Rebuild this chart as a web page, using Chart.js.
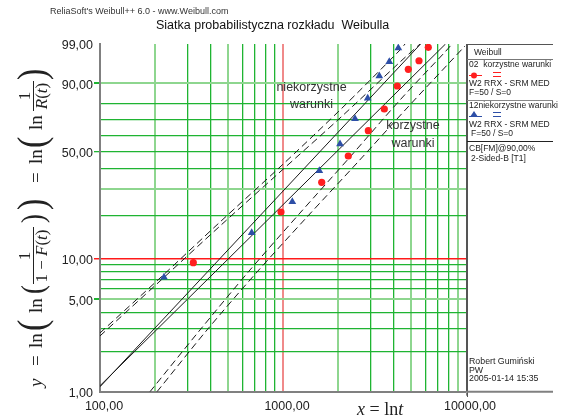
<!DOCTYPE html>
<html><head><meta charset="utf-8">
<script src="https://cdn.jsdelivr.net/npm/chart.js@4.4.1/dist/chart.umd.min.js"></script>
<style>html,body{margin:0;padding:0;background:#fff;}#wrap{width:565px;height:419px;position:relative}</style>
</head><body><div id="wrap"><canvas id="c" width="565" height="419"></canvas></div>
<script>
// ---- axis ticks ----
const xTickValues = [100,200,300,400,500,600,700,800,900,1000,2000,3000,4000,5000,6000,7000,8000,9000,10000];
const xTickLabels = {100:'100,00', 1000:'1000,00', 10000:'10000,00'};
const yTickPercents = [1,2,3,4,5,6,7,8,9,10,20,30,40,50,60,70,80,90,99];
const yTickLabels = {1:'1,00', 5:'5,00', 10:'10,00', 50:'50,00', 90:'90,00', 99:'99,00'};

// ---- data points (time, unreliability %) ----
const korzystneTimes = [323.5, 975.1, 1627.5, 2274, 2925, 3577, 4213, 4838, 5536, 6223];
const korzystneF     = [9.30, 21.22, 33.13, 47.26, 63.18, 76.88, 88.88, 94.75, 96.76, 98.70];
const niekorzystneTimes = [223.7, 674.5, 1124.2, 1579, 2049, 2474, 2903, 3359, 3809, 4266];
const niekorzystneF     = [7.27, 15.26, 24.87, 38.97, 54.63, 70.90, 82.93, 92.72, 96.56, 98.63];

// ---- fitted lines ----
const fitNiekTimes = [100, 5648];
const fitNiekF     = [1.09, 99];
const fitKorzTimes = [100, 7727];
const fitKorzF     = [1.11, 99];

// ---- confidence bounds (90%, 2-sided) ----
const upperNiekTimes = [100, 212.8, 452.7, 963, 2049, 4359, 4642];
const upperNiekF     = [2.79, 7.18, 18.12, 40.96, 76.28, 98.41, 99];
const upperKorzTimes = [100, 212.8, 452.7, 963, 2049, 4359, 5607];
const upperKorzF     = [2.65, 6.82, 17.0, 38.28, 71.34, 96.50, 99];
const lowerNiekTimes = [187.6, 352.0, 660.2, 1238.5, 2323, 4359, 7679, 8386];
const lowerNiekF     = [1, 2.94, 8.23, 20.89, 46.66, 82.03, 98.17, 99];
const lowerKorzTimes = [204.9, 384.4, 721.1, 1352.7, 2537, 4761, 8178, 9875];
const lowerKorzF     = [1, 2.94, 7.95, 19.62, 43.2, 77.47, 96.50, 98.83];

// Weibull probability transform
const W = F => Math.log(-Math.log(1 - F / 100));
const pts = (ts, fs) => ts.map((t, i) => ({x: t, y: W(fs[i])}));

const serif = "'Liberation Serif','Times New Roman',serif";
const sans = "'Liberation Sans',Arial,sans-serif";
const GREEN = '#1fb432', LIGHT = '#8ed68f', RED = '#ff1a1a', PINK = '#f08a8a', AXIS = '#808080';
const RED_PT = '#ff1f1f', BLUE_PT = '#2d4ea6';

const lightX = [200, 500, 2000, 5000, 9000];
const lightY = [5, 30, 90];

// draw rotated text (reading bottom->top); sy = screen y where the text starts, sx = baseline x
function rot(ctx, txt, font, sy, sx, stretch) {
  ctx.font = font;
  ctx.save();
  ctx.translate(sx, sy);
  ctx.rotate(-Math.PI / 2);
  if (stretch) ctx.scale(1, stretch);
  ctx.textAlign = 'left'; ctx.textBaseline = 'alphabetic';
  ctx.fillText(txt, 0, 0);
  ctx.restore();
}
function rotParts(ctx, parts, syStart, sx) {
  let off = 0;
  parts.forEach(([txt, font]) => { rot(ctx, txt, font, syStart - off, sx); ctx.font = font; off += ctx.measureText(txt).width; });
}
function partsWidth(ctx, parts) {
  let w = 0; parts.forEach(([t, f]) => { ctx.font = f; w += ctx.measureText(t).width; }); return w;
}
function rotCentered(ctx, parts, syCenter, sx) {
  rotParts(ctx, parts, syCenter + partsWidth(ctx, parts) / 2, sx);
}
function hParts(ctx, parts, x, y) {
  let off = 0;
  parts.forEach(([t, f]) => { ctx.font = f; ctx.fillText(t, x + off, y); off += ctx.measureText(t).width; });
}

const decor = {
  id: 'decor',
  afterDraw(chart) {
    const ctx = chart.ctx;
    ctx.save();
    ctx.fillStyle = '#333';
    ctx.textBaseline = 'middle';
    ctx.textAlign = 'left';
    ctx.font = '9px ' + sans;
    ctx.fillText("ReliaSoft's Weibull++ 6.0 - www.Weibull.com", 50, 12);
    ctx.fillStyle = '#111';
    ctx.font = '12.5px ' + sans;
    ctx.fillText('Siatka probabilistyczna rozkładu  Weibulla', 156, 26);

    // annotations
    ctx.fillStyle = '#333';
    ctx.font = '12.5px ' + sans;
    ctx.textAlign = 'center';
    ctx.fillText('niekorzystne', 311.5, 88);
    ctx.fillText('warunki', 311.5, 105);
    ctx.fillText('korzystne', 413, 126);
    ctx.fillText('warunki', 413, 143.5);

    // legend frame
    const ca = chart.chartArea;
    ctx.lineWidth = 1;
    const hl = (y, c) => { ctx.strokeStyle = c; ctx.beginPath(); ctx.moveTo(467, y); ctx.lineTo(553, y); ctx.stroke(); };
    ctx.strokeStyle = '#555';
    ctx.beginPath(); ctx.moveTo(467.5, 44); ctx.lineTo(467.5, 397); ctx.stroke();
    hl(44.5, '#555'); hl(59.5, '#777'); hl(100.5, '#888'); hl(141.5, '#222');
    ctx.strokeStyle = AXIS; ctx.lineWidth = 2;
    ctx.beginPath(); ctx.moveTo(ca.right, ca.bottom); ctx.lineTo(553, ca.bottom); ctx.stroke();

    ctx.fillStyle = '#222';
    ctx.textAlign = 'left';
    ctx.font = '8.5px ' + sans;
    ctx.fillText('Weibull', 474, 53);
    ctx.fillText('02  korzystne warunki', 469, 65);
    ctx.fillText('W2 RRX - SRM MED', 469, 84);
    ctx.fillText('F=50 / S=0', 469, 92.5);
    ctx.fillText('12niekorzystne warunki', 469, 106);
    ctx.fillText('W2 RRX - SRM MED', 469, 125);
    ctx.fillText('F=50 / S=0', 471, 134);
    ctx.fillText('CB[FM]@90,00%', 469, 148.5);
    ctx.fillText('2-Sided-B [T1]', 471, 158.5);
    ctx.font = '8.8px ' + sans;
    ctx.fillText('Robert Gumiński', 469, 362);
    ctx.fillText('PW', 469, 370.5);
    ctx.fillText('2005-01-14 15:35', 469, 379);

    // legend symbols
    ctx.lineWidth = 1;
    ctx.strokeStyle = RED_PT; ctx.fillStyle = RED_PT;
    ctx.beginPath(); ctx.moveTo(469, 75.5); ctx.lineTo(482, 75.5); ctx.stroke();
    ctx.beginPath(); ctx.arc(474, 75.5, 3, 0, Math.PI * 2); ctx.fill();
    ctx.beginPath(); ctx.moveTo(493, 72.5); ctx.lineTo(501, 72.5); ctx.moveTo(493, 76.5); ctx.lineTo(501, 76.5); ctx.stroke();
    ctx.strokeStyle = BLUE_PT; ctx.fillStyle = BLUE_PT;
    ctx.beginPath(); ctx.moveTo(469, 116.5); ctx.lineTo(482, 116.5); ctx.stroke();
    ctx.beginPath(); ctx.moveTo(474, 111); ctx.lineTo(478, 117); ctx.lineTo(470, 117); ctx.closePath(); ctx.fill();
    ctx.beginPath(); ctx.moveTo(493, 112.5); ctx.lineTo(501, 112.5); ctx.moveTo(493, 116.5); ctx.lineTo(501, 116.5); ctx.stroke();

    // x axis title
    ctx.fillStyle = '#222';
    ctx.textBaseline = 'alphabetic';
    hParts(ctx, [['x', 'italic 18px ' + serif], [' = ', '18px ' + serif], ['ln', '18px ' + serif], ['t', 'italic 18px ' + serif]], 357, 415);

    // y axis title (rotated formula)
    const f20 = '19px ' + serif, i20 = 'italic 19px ' + serif;
    const f17 = '17px ' + serif, i17 = 'italic 17px ' + serif;
    const par = '34px ' + serif, par2 = '27px ' + serif;
    rot(ctx, 'y', i20, 387, 42);
    rot(ctx, '=', f20, 366, 42);
    rot(ctx, 'ln', f20, 348, 42);
    rot(ctx, '(', par, 331, 44.5, 1.2);
    rot(ctx, 'ln', f20, 313, 42);
    rot(ctx, '(', par2, 294, 42.5, 1.2);
    rotCentered(ctx, [['1', f17]], 256, 30);
    rotCentered(ctx, [['1 − ', f17], ['F', i17], ['(', f17], ['t', i17], [')', f17]], 256, 46.5);
    ctx.strokeStyle = '#222'; ctx.lineWidth = 1;
    ctx.beginPath(); ctx.moveTo(33.5, 284); ctx.lineTo(33.5, 227); ctx.stroke();
    rot(ctx, ')', par2, 223, 42.5, 1.2);
    rot(ctx, ')', par, 210, 44.5, 1.2);
    rot(ctx, '=', f20, 183, 42);
    rot(ctx, 'ln', f20, 164, 42);
    rot(ctx, '(', par, 148, 44.5, 1.2);
    rot(ctx, 'ln', f20, 130, 42);
    rotCentered(ctx, [['1', f17]], 96, 30);
    rotCentered(ctx, [['R', i17], ['(', f17], ['t', i17], [')', f17]], 96, 46.5);
    ctx.beginPath(); ctx.moveTo(33.5, 111); ctx.lineTo(33.5, 81); ctx.stroke();
    rot(ctx, ')', par, 80, 44.5, 1.2);
    ctx.restore();
  }
};

const dash = (data) => ({data, showLine: true, borderColor: '#1a1a1a', borderWidth: 1, borderDash: [7, 4], pointRadius: 0, fill: false, tension: 0.3});
const solid = (data) => ({data, showLine: true, borderColor: '#1a1a1a', borderWidth: 1, pointRadius: 0, fill: false});

new Chart(document.getElementById('c'), {
  type: 'scatter',
  data: {
    datasets: [
      {label: 'korzystne', data: pts(korzystneTimes, korzystneF), pointStyle: 'circle', pointRadius: 3.6, backgroundColor: RED_PT, borderWidth: 0, showLine: false},
      {label: 'niekorzystne', data: pts(niekorzystneTimes, niekorzystneF), pointStyle: 'triangle', pointRadius: 4.5, backgroundColor: BLUE_PT, borderWidth: 0, showLine: false},
      solid(pts(fitNiekTimes, fitNiekF)),
      solid(pts(fitKorzTimes, fitKorzF)),
      dash(pts(upperNiekTimes, upperNiekF)),
      dash(pts(upperKorzTimes, upperKorzF)),
      dash(pts(lowerNiekTimes, lowerNiekF)),
      dash(pts(lowerKorzTimes, lowerKorzF))
    ]
  },
  options: {
    responsive: false, animation: false, devicePixelRatio: 1,
    layout: {padding: {top: 44, right: 99, bottom: 0, left: 0}},
    plugins: {legend: {display: false}, tooltip: {enabled: false}, title: {display: false}},
    scales: {
      x: {
        type: 'logarithmic', min: 100, max: 10000,
        afterBuildTicks: s => { s.ticks = xTickValues.map(v => ({value: v})); },
        afterFit: s => { s.height = 27.3; },
        border: {display: true, color: AXIS, width: 2},
        grid: {
          drawTicks: true, tickLength: 4,
          color: c => { const v = c.tick && c.tick.value; if (v === 1000) return PINK; if (v === 10000) return '#555'; if (lightX.includes(v)) return LIGHT; return GREEN; },
          lineWidth: c => { const v = c.tick && c.tick.value; if (v === 100) return 0; if (v === 10000) return 1; if (v === 1000 || lightX.includes(v)) return 2; return 1.3; },
          tickColor: c => { const v = c.tick && c.tick.value; return (v === 100 || v === 10000) ? AXIS : 'rgba(0,0,0,0)'; }
        },
        ticks: {
          autoSkip: false, maxRotation: 0, padding: 3, labelOffset: 4, color: '#222',
          font: {family: "'Liberation Sans',Arial,sans-serif", size: 12.5},
          callback: (v, i) => xTickLabels[xTickValues[i]] || ''
        }
      },
      y: {
        type: 'linear', min: W(1), max: W(99),
        afterBuildTicks: s => { s.ticks = yTickPercents.map(p => ({value: W(p)})); },
        afterFit: s => { s.width = 100; },
        border: {display: true, color: AXIS, width: 2},
        grid: {
          drawTicks: true, tickLength: 6,
          color: c => { const p = yTickPercents[c.index]; if (p === 10) return RED; if (lightY.includes(p)) return LIGHT; return GREEN; },
          lineWidth: c => { const p = yTickPercents[c.index]; if (p === 1 || p === 99) return 0; if (lightY.includes(p)) return 2; if (p === 10) return 1.5; return 1.3; },
          tickColor: c => { const p = yTickPercents[c.index]; if (p === 1 || p === 99) return AXIS; if (p === 10) return RED; if (yTickLabels[p]) return GREEN; return 'rgba(0,0,0,0)'; }
        },
        ticks: {
          autoSkip: false, padding: 1, labelOffset: 2, color: '#222',
          font: {family: "'Liberation Sans',Arial,sans-serif", size: 12.5},
          callback: (v, i) => yTickLabels[yTickPercents[i]] || ''
        }
      }
    }
  },
  plugins: [decor]
});
</script></body></html>
